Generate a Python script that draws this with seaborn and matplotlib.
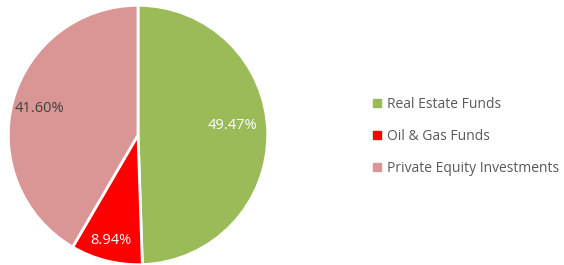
import matplotlib
matplotlib.use('Agg')
import matplotlib.pyplot as plt
from matplotlib.lines import Line2D
import seaborn as sns

sns.set_theme(style='white')
plt.rcParams['font.family'] = ['Open Sans', 'DejaVu Sans']

categories = ['Real Estate Funds', 'Oil & Gas Funds', 'Private Equity Investments']
shares = [49.47, 8.94, 41.60]
colors = ['#9BBB59', '#FF0000', '#D99694']
label_colors = ['white', 'white', '#404040']
label_dist = [0.73, 0.84, 0.79]

fig = plt.figure(figsize=(5.64, 2.65), dpi=100)
ax = fig.add_axes([7 / 564, -1 / 265, 262 / 564, 262 / 265])

wedges, texts, autotexts = ax.pie(
    shares, colors=colors, startangle=90, counterclock=False,
    autopct='%.2f%%', pctdistance=1.0,
    wedgeprops=dict(edgecolor='white', linewidth=2),
    textprops=dict(fontsize=10.5))
for t, c, d in zip(autotexts, label_colors, label_dist):
    x, y = t.get_position()
    # excel nudges the big green label up a little
    t.set_position((x * d, y * d + (0.06 if t is autotexts[0] else 0)))
    t.set_color(c)
ax.set_aspect('equal')
ax.set_xlim(-1.01, 1.01)
ax.set_ylim(-1.01, 1.01)

handles = [Line2D([], [], marker='s', linestyle='', color=c, markersize=5.5) for c in colors]
fig.legend(handles, categories, loc='center left', bbox_to_anchor=(359 / 564, 0.485),
           frameon=False, fontsize=10, labelcolor='#595959', labelspacing=1.2,
           handlelength=0.8, handletextpad=0.35)

fig.savefig('out.png', dpi=100)
